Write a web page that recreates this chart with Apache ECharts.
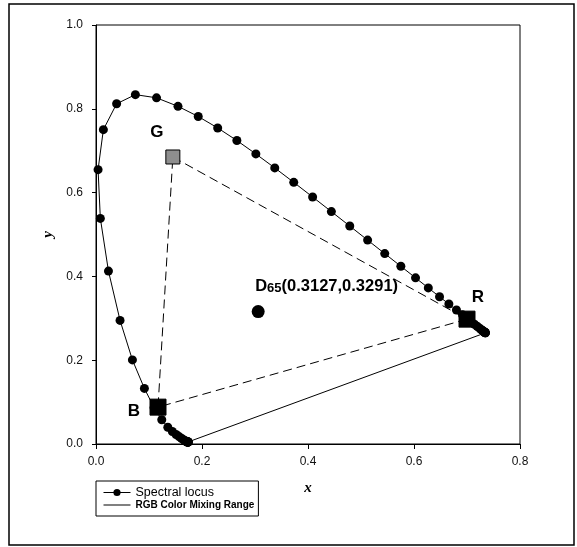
<!DOCTYPE html>
<html>
<head>
<meta charset="utf-8">
<script src="https://cdn.jsdelivr.net/npm/echarts@6/dist/echarts.min.js"></script>
<style>html,body{margin:0;padding:0;background:#fff;}#c{width:577px;height:547px;}</style>
</head>
<body>
<div id="c"></div>
<script>
// Spectral locus (CIE 1931), 380-700 nm in 5 nm steps
const locusX = [0.1741,0.1740,0.1738,0.1736,0.1733,0.1730,0.1726,0.1721,0.1714,0.1703,0.1689,0.1669,0.1644,0.1611,0.1566,0.1510,0.1440,0.1355,0.1241,0.1096,0.0913,0.0687,0.0454,0.0235,0.0082,0.0039,0.0139,0.0389,0.0743,0.1142,0.1547,0.1929,0.2296,0.2658,0.3016,0.3373,0.3731,0.4087,0.4441,0.4788,0.5125,0.5448,0.5752,0.6029,0.6270,0.6482,0.6658,0.6801,0.6915,0.7006,0.7079,0.7140,0.7190,0.7230,0.7260,0.7283,0.7300,0.7311,0.7320,0.7327,0.7334,0.7340,0.7344,0.7346,0.7347];
const locusY = [0.0050,0.0050,0.0049,0.0049,0.0048,0.0048,0.0048,0.0048,0.0051,0.0058,0.0069,0.0086,0.0109,0.0138,0.0177,0.0227,0.0297,0.0399,0.0578,0.0868,0.1327,0.2007,0.2950,0.4127,0.5384,0.6548,0.7502,0.8120,0.8338,0.8262,0.8059,0.7816,0.7543,0.7243,0.6923,0.6589,0.6245,0.5896,0.5547,0.5202,0.4866,0.4544,0.4242,0.3965,0.3725,0.3514,0.3340,0.3197,0.3083,0.2993,0.2920,0.2859,0.2809,0.2770,0.2740,0.2717,0.2700,0.2689,0.2680,0.2673,0.2666,0.2660,0.2656,0.2654,0.2653];

// RGB primaries
const primaryNames = ['G','R','B'];
const primaryX = [0.145, 0.700, 0.117];
const primaryY = [0.685, 0.298, 0.088];

// White point
const whiteX = [0.306];
const whiteY = [0.316];
const whiteText = ['D', '65', '(0.3127,0.3291)'];

// Axis ticks
const xTicks = [0.0, 0.2, 0.4, 0.6, 0.8];
const yTicks = [0.0, 0.2, 0.4, 0.6, 0.8, 1.0];

const seriesNames = ['Spectral locus', 'RGB Color Mixing Range'];

const locusData = locusX.map((x, i) => [x, locusY[i]]);
const purpleData = [locusData[0], locusData[locusData.length - 1]];
const triData = primaryNames.map((n, i) => [primaryX[i], primaryY[i]]);
triData.push(triData[0]);
const primaryData = primaryNames.map((n, i) => ({ name: n, value: [primaryX[i], primaryY[i]] }));

const labelOffsets = { G: [-16, -25], R: [11, -22], B: [-24, 4] };

const chart = echarts.init(document.getElementById('c'), null, { renderer: 'canvas' });
chart.setOption({
  animation: false,
  backgroundColor: '#fff',
  textStyle: { fontFamily: 'Liberation Sans, Arial, sans-serif' },
  graphic: [{
    type: 'rect', z: 100, silent: true,
    shape: { x: 9, y: 4, width: 565, height: 541 },
    style: { fill: 'none', stroke: '#000', lineWidth: 1.5 }
  }],
  grid: { left: 96, top: 25, right: 57, bottom: 103, show: true, borderColor: '#000', borderWidth: 1, backgroundColor: 'transparent' },
  xAxis: {
    type: 'value', min: xTicks[0], max: xTicks[xTicks.length - 1], interval: 0.2,
    name: 'x', nameLocation: 'middle', nameGap: 37,
    nameTextStyle: { fontFamily: 'Liberation Serif, Times New Roman, serif', fontStyle: 'italic', fontWeight: 'bold', fontSize: 15, color: '#000' },
    axisLine: { show: true, lineStyle: { color: '#000', width: 1 } },
    axisTick: { show: true, inside: false, length: 5, lineStyle: { color: '#000' } },
    axisLabel: { margin: 12, fontSize: 12, color: '#111', formatter: v => v.toFixed(1) },
    splitLine: { show: false }
  },
  yAxis: {
    type: 'value', min: yTicks[0], max: yTicks[yTicks.length - 1], interval: 0.2,
    name: 'y', nameLocation: 'middle', nameGap: 36, nameRotate: 90,
    nameTextStyle: { fontFamily: 'Liberation Serif, Times New Roman, serif', fontStyle: 'italic', fontWeight: 'bold', fontSize: 15, color: '#000' },
    axisLine: { show: true, lineStyle: { color: '#000', width: 1 } },
    axisTick: { show: true, inside: false, length: 4, lineStyle: { color: '#000' } },
    axisLabel: { margin: 13, fontSize: 12, color: '#111', formatter: v => v.toFixed(1) },
    splitLine: { show: false }
  },
  legend: {
    orient: 'vertical', left: 96, top: 481,
    padding: [5, 4, 6, 7], itemGap: 1,
    itemWidth: 27, itemHeight: 9,
    backgroundColor: '#fff', borderColor: '#000', borderWidth: 1,
    textStyle: { color: '#000', fontSize: 12.5 },
    data: [
      { name: seriesNames[0], lineStyle: { width: 1 }, textStyle: { fontSize: 12.5, color: '#000' } },
      { name: seriesNames[1], icon: 'path://M0,0 L27,0 L27,1 L0,1 Z', itemStyle: { color: '#000' },
        textStyle: { fontSize: 10, fontWeight: 'bold', color: '#000' } }
    ]
  },
  series: [
    {
      name: seriesNames[0], type: 'line', data: locusData,
      symbol: 'circle', symbolSize: 9, showSymbol: true,
      lineStyle: { color: '#000', width: 1 },
      itemStyle: { color: '#000' }, z: 3
    },
    {
      name: 'closing', type: 'line', data: purpleData, symbol: 'none',
      lineStyle: { color: '#000', width: 1 }, z: 2
    },
    {
      name: seriesNames[1], type: 'line', data: triData, symbol: 'none', showSymbol: false,
      lineStyle: { color: '#000', width: 1, type: [9, 5] },
      itemStyle: { color: '#000' }, z: 2
    },
    {
      name: 'primaries', type: 'scatter', data: primaryData, z: 5,
      symbol: 'rect',
      symbolSize: (v, p) => p.name === 'G' ? 14 : 16,
      itemStyle: {
        opacity: 1,
        color: p => p.name === 'G' ? '#8e8e8e' : '#000',
        borderColor: '#000', borderWidth: 1
      },
      label: {
        show: true, position: 'inside',
        formatter: p => p.name,
        fontSize: 17, fontWeight: 'bold', color: '#000'
      },
      labelLayout: p => {
        const name = primaryNames[p.dataIndex];
        return { dx: labelOffsets[name][0], dy: labelOffsets[name][1] };
      }
    },
    {
      name: 'white', type: 'scatter', data: whiteX.map((x, i) => [x, whiteY[i]]), z: 5,
      symbol: 'circle', symbolSize: 13, itemStyle: { color: '#000', opacity: 1 },
      label: {
        show: true, position: 'top', align: 'left', distance: 5, offset: [-3, -4],
        formatter: () => '{a|' + whiteText[0] + '}{s|' + whiteText[1] + '}{a|' + whiteText[2] + '}',
        rich: {
          a: { fontSize: 16.5, fontWeight: 'bold', color: '#000', lineHeight: 20 },
          s: { fontSize: 13, fontWeight: 'bold', color: '#000', padding: [5, 0, 0, 0], lineHeight: 20 }
        }
      }
    }
  ]
});
</script>
</body>
</html>
